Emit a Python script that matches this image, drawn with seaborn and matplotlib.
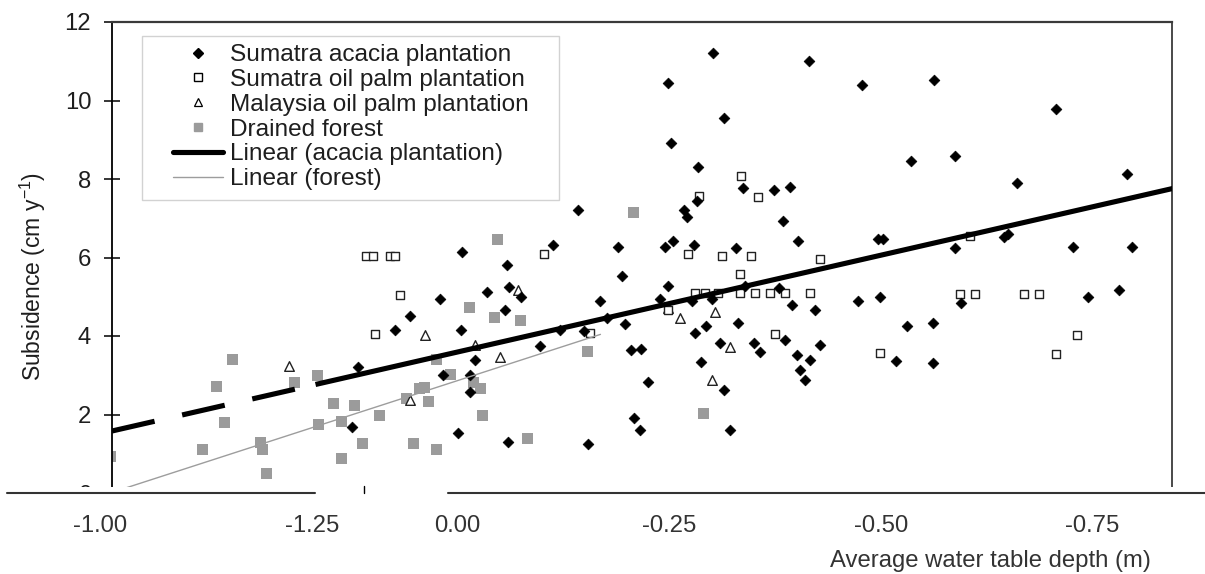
import matplotlib
matplotlib.use("Agg")
import matplotlib.pyplot as plt
from matplotlib.lines import Line2D
from matplotlib.patches import Rectangle
from matplotlib.transforms import blended_transform_factory
import numpy as np
import seaborn as sns

sns.set_theme(style="white")
plt.rcParams["font.family"] = ["Liberation Sans", "DejaVu Sans"]
plt.rcParams["mathtext.fontset"] = "custom"
plt.rcParams["mathtext.rm"] = "Liberation Sans"
plt.rcParams["mathtext.default"] = "regular"

# ---- data: average water table depth (m) and subsidence (cm/yr) ----
acacia_depth = [-0.302, -0.249, -0.415, -0.478, -0.315, -0.252, -0.284, -0.337, -0.374, -0.393,
                -0.283, -0.268, -0.271, -0.384, -0.143, -0.113, -0.190, -0.245, -0.255, -0.279,
                -0.329, -0.402, -0.496, -0.5625, -0.706, -0.535, -0.587, -0.660, -0.790, -0.502,
                -0.645, -0.650, -0.587, -0.726, -0.796, -0.499, -0.594, -0.744, -0.781, -0.531,
                -0.561, -0.518, -0.561, 0.117, 0.124, 0.017, -0.015, -0.015, -0.001, -0.021,
                -0.035, -0.059, -0.061, -0.075, -0.098, -0.121, -0.150, -0.154, -0.169, -0.177,
                -0.195, -0.198, -0.205, -0.208, -0.217, -0.225, -0.216, -0.239, -0.249, -0.277,
                -0.281, -0.287, -0.294, -0.301, -0.310, -0.315, -0.322, -0.331, -0.340, -0.350,
                -0.357, -0.379, -0.387, -0.395, -0.401, -0.404, -0.410, -0.416, -0.422, -0.428,
                0.020, -0.004, 0.073, 0.055, -0.057, -0.006, -0.473, -0.060]
acacia_subs = [11.21, 10.44, 11.0, 10.39, 9.55, 8.91, 8.30, 7.76, 7.71, 7.79,
               7.43, 7.22, 7.02, 6.94, 7.20, 6.33, 6.28, 6.28, 6.41, 6.33,
               6.25, 6.41, 6.46, 10.52, 9.78, 8.45, 8.58, 7.91, 8.12, 6.48,
               6.51, 6.59, 6.25, 6.28, 6.28, 5.0, 4.83, 5.0, 5.16, 4.26,
               4.34, 3.37, 3.32, 3.22, 1.68, 3.01, 3.01, 2.58, 1.53, 3.40,
               5.13, 5.80, 5.26, 5.0, 3.75, 4.16, 4.14, 1.25, 4.90, 4.47,
               5.54, 4.31, 3.65, 1.91, 3.68, 2.83, 1.60, 4.93, 5.28, 4.90,
               4.08, 3.34, 4.26, 4.93, 3.83, 2.63, 1.61, 4.34, 5.28, 3.83,
               3.60, 5.23, 3.90, 4.80, 3.52, 3.14, 2.88, 3.40, 4.67, 3.78,
               4.93, 4.16, 4.16, 4.52, 4.67, 6.15, 4.88, 1.30]

oilpalm_depth = [-0.335, -0.355, -0.285, -0.605, -0.593, -0.611, -0.669, -0.686, -0.731, -0.706,
                 -0.499, 0.108, 0.099, 0.079, 0.073, 0.067, 0.097, -0.103, -0.272, -0.312,
                 -0.346, -0.334, -0.281, -0.292, -0.308, -0.334, -0.351, -0.369, -0.387, -0.416,
                 -0.375, -0.249, -0.157, -0.428]
oilpalm_subs = [8.07, 7.53, 7.56, 6.56, 5.08, 5.08, 5.08, 5.08, 4.03, 3.55,
                3.57, 6.03, 6.03, 6.03, 6.03, 5.05, 4.06, 6.10, 6.10, 6.05,
                6.05, 5.59, 5.10, 5.10, 5.10, 5.10, 5.10, 5.10, 5.10, 5.10,
                4.06, 4.67, 4.08, 5.95]

malaysia_depth = [0.198, 0.038, 0.055, -0.021, -0.072, -0.051, -0.249, -0.263, -0.304, -0.301, -0.322]
malaysia_subs = [3.24, 4.03, 2.37, 3.78, 5.18, 3.47, 4.72, 4.47, 4.60, 2.88, 3.73]

forest_depth = [0.409, 0.284, 0.274, 0.300, 0.265, 0.232, 0.229, 0.225, 0.192, 0.165,
                0.164, 0.146, 0.121, 0.136, 0.112, 0.136, 0.091, 0.060, 0.052, 0.044,
                0.039, 0.034, 0.024, 0.008, -0.019, -0.027, -0.030, 0.024, -0.048, -0.208,
                -0.083, -0.015, -0.044, -0.075, -0.154, -0.291]
forest_subs = [0.92, 2.71, 1.79, 1.10, 3.40, 1.28, 1.12, 0.49, 2.81, 2.99,
               1.74, 2.27, 2.22, 1.81, 1.25, 0.89, 1.97, 2.40, 1.25, 2.66,
               2.68, 2.32, 1.10, 3.01, 2.81, 2.66, 1.97, 3.40, 6.46, 7.15,
               1.40, 4.72, 4.47, 4.39, 3.60, 2.02]

# linear trends: subsidence = slope * depth + intercept
acacia_slope, acacia_intercept = -4.94, 3.59
acacia_fit_span = (0.167, -0.852)
acacia_extrapolated_span = (0.407, 0.167)
forest_slope, forest_intercept = -6.99, 2.86
forest_fit_span = (0.41, -0.169)

y_ticks = [0, 2, 4, 6, 8, 10, 12]
x_label_depths = [0.421, 0.171, 0.0, -0.25, -0.50, -0.749]
x_labels = ["-1.00", "-1.25", "0.00", "-0.25", "-0.50", "-0.75"]
legend_labels = ["Sumatra acacia plantation", "Sumatra oil palm plantation",
                 "Malaysia oil palm plantation", "Drained forest",
                 "Linear (acacia plantation)", "Linear (forest)"]

# ---- figure layout (pixel based) ----
W, H = 1205, 574
fig = plt.figure(figsize=(W / 100, H / 100), dpi=100)
fig.patch.set_facecolor("white")


def fx(px):
    return px / W


def fy(py):
    return 1 - py / H


ax = fig.add_axes([fx(112), fy(493), fx(1172) - fx(112), fy(22) - fy(493)])
ax.set_facecolor("white")
ax.set_xlim(0.407, -0.843)
ax.set_ylim(0, 12)

TEXT = "#1e1e1e"
FS = 17.2
LEG_FS = 17.6

# scatter series
sns.scatterplot(x=forest_depth, y=forest_subs, ax=ax, marker="s", s=62,
                color="#9b9b9b", edgecolor="none", zorder=2)
sns.scatterplot(x=malaysia_depth, y=malaysia_subs, ax=ax, marker="^", s=48,
                facecolor="white", edgecolor="#222222", linewidth=1.0, zorder=2)
sns.scatterplot(x=oilpalm_depth, y=oilpalm_subs, ax=ax, marker="s", s=40,
                facecolor="white", edgecolor="#222222", linewidth=1.0, zorder=2)
sns.scatterplot(x=acacia_depth, y=acacia_subs, ax=ax, marker="D", s=30,
                color="black", edgecolor="black", linewidth=0.5, zorder=2)

# trend lines
fx_a = np.array(acacia_fit_span)
sns.lineplot(x=fx_a, y=acacia_slope * fx_a + acacia_intercept, ax=ax, color="black",
             linewidth=3.7, solid_capstyle="butt", zorder=3)
fx_e = np.array(acacia_extrapolated_span)
ax.plot(fx_e, acacia_slope * fx_e + acacia_intercept, color="black", linewidth=3.7,
        dashes=(8.5, 5.5), dash_capstyle="butt", zorder=3)
fx_f = np.array(forest_fit_span)
sns.lineplot(x=fx_f, y=forest_slope * fx_f + forest_intercept, ax=ax, color="#9d9d9d",
             linewidth=1.0, zorder=3)

# axes styling
ax.set_yticks(y_ticks)
ax.set_yticklabels([str(v) for v in y_ticks], fontsize=FS, color=TEXT)
ax.set_xticks([])
ax.tick_params(axis="y", direction="inout", length=12, width=1.1, color="black", pad=9, left=True)
ax.spines["bottom"].set_visible(False)
ax.spines["left"].set_color("black")
ax.spines["left"].set_linewidth(1.3)
ax.spines["top"].set_color("#3a3a3a")
ax.spines["top"].set_linewidth(1.6)
ax.spines["right"].set_color("#3a3a3a")
ax.spines["right"].set_linewidth(1.3)
ax.grid(False)

# legend
handles = [
    Line2D([], [], marker="D", color="black", linestyle="none", markersize=5.0),
    Line2D([], [], marker="s", markerfacecolor="white", markeredgecolor="black",
           linestyle="none", markersize=5.5, markeredgewidth=1.0),
    Line2D([], [], marker="^", markerfacecolor="white", markeredgecolor="black",
           linestyle="none", markersize=6, markeredgewidth=0.9),
    Line2D([], [], marker="s", color="#9b9b9b", linestyle="none", markersize=5.5),
    Line2D([], [], color="black", linewidth=3.7, solid_capstyle="round"),
    Line2D([], [], color="#9d9d9d", linewidth=1.0),
]
ax.add_patch(Rectangle((fx(142), fy(200)), fx(559) - fx(142), fy(36) - fy(200),
                       transform=fig.transFigure, facecolor="white", edgecolor="#d2d2d2",
                       linewidth=1.0, zorder=4))
leg = ax.legend(handles, legend_labels, loc="upper left",
                bbox_to_anchor=(fx(173), fy(44)), bbox_transform=fig.transFigure,
                frameon=False, fontsize=LEG_FS, borderpad=0, borderaxespad=0,
                handlelength=2.05, handletextpad=0.28, labelspacing=0.11)
leg.set_zorder(5)
for t in leg.get_texts():
    t.set_color(TEXT)

# y axis title
fig.text(fx(33), fy(276), "Subsidence (cm y$^{-1}$)", rotation=90, ha="center",
         va="center", fontsize=16.5, color=TEXT)

# lower band: blank strip, baseline, x labels
fig.add_artist(Rectangle((0, 0), 1, fy(486.5), transform=fig.transFigure,
                         facecolor="white", edgecolor="none", zorder=1))
for x0, x1 in [(7, 315), (448, 1205)]:
    fig.add_artist(Line2D([fx(x0), fx(x1)], [fy(493), fy(493)], color="#333333",
                          linewidth=1.5, zorder=2))
fig.add_artist(Line2D([fx(364), fx(364)], [fy(486), fy(493)], color="black",
                      linewidth=1.0, zorder=2))
lbl_tr = blended_transform_factory(ax.transData, fig.transFigure)
for d, lab in zip(x_label_depths, x_labels):
    fig.text(d, fy(526), lab, transform=lbl_tr, ha="center", va="center",
             fontsize=FS, color="#333333", zorder=3)
fig.text(fx(990), fy(561), "Average water table depth (m)", ha="center", va="center",
         fontsize=FS, color="#333333", zorder=3)

fig.savefig("out.png", dpi=100, facecolor="white")
